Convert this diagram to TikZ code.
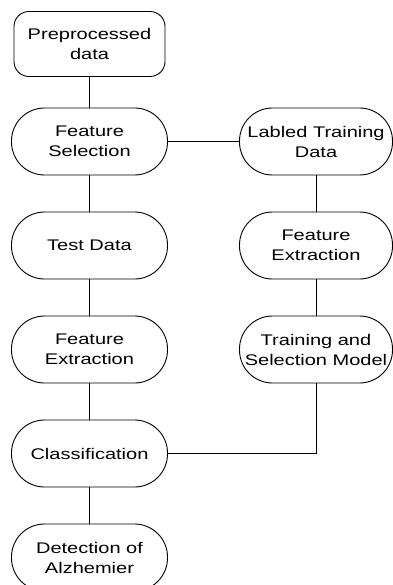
\documentclass[tikz,border=0pt]{standalone}
\usepackage{fontspec}
\setmainfont[FakeStretch=1.3]{Liberation Sans}
\begin{document}
\begin{tikzpicture}[x=1pt,y=-1pt,
  stadium/.style={draw=black, line width=0.9pt, rounded corners=33pt, minimum width=156pt, minimum height=67pt, align=center, font=\fontsize{15.4}{20}\selectfont, inner sep=0pt},
  roundbox/.style={draw=black, line width=0.9pt, rounded corners=15pt, minimum width=151pt, minimum height=65pt, align=center, font=\fontsize{15.4}{20}\selectfont, inner sep=0pt},
  conn/.style={draw=black, line width=0.9pt}]
\useasboundingbox (0,0) rectangle (392,585);
\node[roundbox] (pre) at (89.5,44) {Preprocessed\\data};
\node[stadium] (fs) at (89.5,141.5) {Feature\\Selection};
\node[stadium] (td) at (89.5,245.5) {Test Data};
\node[stadium] (fel) at (89.5,349.5) {Feature\\Extraction};
\node[stadium] (cl) at (89.5,453.5) {Classification};
\node[stadium] (det) at (89.5,557.5) {Detection of\\Alzhemier};
\node[stadium, minimum width=153pt] (ltd) at (316,141.5) {Labled Training\\Data};
\node[stadium, minimum width=153pt] (fer) at (316,245.5) {Feature\\Extraction};
\node[stadium, minimum width=153pt] (tsm) at (316,349.5) {Training and\\Selection Model};
\draw[conn] (pre) -- (fs);
\draw[conn] (fs) -- (td);
\draw[conn] (td) -- (fel);
\draw[conn] (fel) -- (cl);
\draw[conn] (cl) -- (det);
\draw[conn] (fs) -- (ltd);
\draw[conn] (ltd) -- (fer);
\draw[conn] (fer) -- (tsm);
\draw[conn] (cl.east) -| (tsm.south);
\end{tikzpicture}
\end{document}
